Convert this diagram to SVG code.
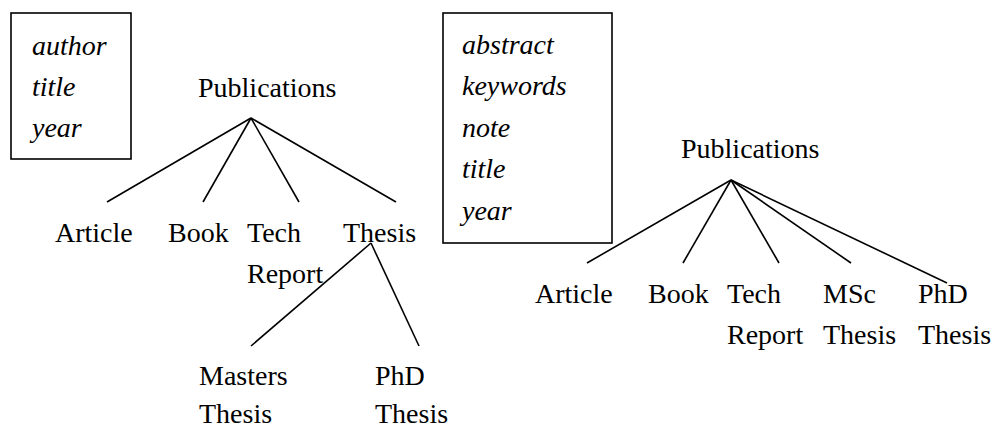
<svg xmlns="http://www.w3.org/2000/svg" width="992" height="429" viewBox="0 0 992 429">
<defs>
<style>
text{font-family:'Liberation Serif','Times New Roman',Times,'DejaVu Serif',serif;font-size:28px;fill:#000}
.it{font-style:italic}
.box{fill:none;stroke:#000;stroke-width:1.6}
.edge{stroke:#000;stroke-width:1.6;fill:none}
</style>
</defs>
<rect width="992" height="429" fill="#fff"/>
<g id="connectors">
<line class="edge" x1="251" y1="118" x2="107" y2="202"/>
<line class="edge" x1="251" y1="118" x2="203" y2="202"/>
<line class="edge" x1="251" y1="118" x2="299" y2="202"/>
<line class="edge" x1="251" y1="118" x2="396" y2="202"/>
<line class="edge" x1="371" y1="243" x2="251" y2="346"/>
<line class="edge" x1="371" y1="243" x2="419" y2="346"/>
<line class="edge" x1="731" y1="180" x2="587" y2="263"/>
<line class="edge" x1="731" y1="180" x2="683" y2="263"/>
<line class="edge" x1="731" y1="180" x2="779" y2="263"/>
<line class="edge" x1="731" y1="180" x2="851" y2="263"/>
<line class="edge" x1="731" y1="180" x2="947" y2="283"/>
</g>
<g id="attrs-left">
<rect class="box" x="11" y="13" width="120" height="146"/>
<text class="it" x="32" y="55">author</text>
<text class="it" x="32" y="96">title</text>
<text class="it" x="32" y="137">year</text>
</g>
<g id="attrs-right">
<rect class="box" x="443" y="13" width="169" height="230"/>
<text class="it" x="462" y="54">abstract</text>
<text class="it" x="462" y="95">keywords</text>
<text class="it" x="462" y="137">note</text>
<text class="it" x="462" y="178">title</text>
<text class="it" x="462" y="220">year</text>
</g>
<g id="l-publications"><text x="198" y="97">Publications</text></g>
<g id="l-article"><text x="55" y="242">Article</text></g>
<g id="l-book"><text x="168" y="242">Book</text></g>
<g id="l-techreport"><text x="247" y="242">Tech</text><text x="247" y="283">Report</text></g>
<g id="l-thesis"><text x="343" y="242">Thesis</text></g>
<g id="l-masters"><text x="199" y="385">Masters</text><text x="199" y="423">Thesis</text></g>
<g id="l-phd"><text x="375" y="385">PhD</text><text x="375" y="423">Thesis</text></g>
<g id="r-publications"><text x="681" y="158">Publications</text></g>
<g id="r-article"><text x="535" y="303">Article</text></g>
<g id="r-book"><text x="648" y="303">Book</text></g>
<g id="r-techreport"><text x="727" y="303">Tech</text><text x="727" y="344">Report</text></g>
<g id="r-msc"><text x="823" y="303">MSc</text><text x="823" y="344">Thesis</text></g>
<g id="r-phd"><text x="918" y="303">PhD</text><text x="918" y="344">Thesis</text></g>
</svg>
